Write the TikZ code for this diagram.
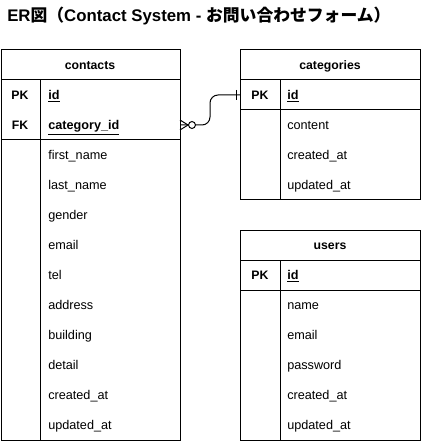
\documentclass[tikz,border=0pt]{standalone}
\usepackage{fontspec}
\setmainfont{Liberation Sans}
\newfontfamily\jpfont{Noto Sans CJK JP}
\usetikzlibrary{calc,positioning}
\tikzset{%
	tablebox/.style  = {draw, line width=0.75pt},
	rowline/.style   = {line width=0.75pt},
	header/.style    = {anchor=base, inner sep=0pt, font=\fontsize{9.2}{11}\selectfont\bfseries},
	keytext/.style   = {anchor=base, inner sep=0pt, font=\fontsize{9.2}{11}\selectfont\bfseries},
	fieldtext/.style = {anchor=base west, inner sep=0pt, font=\fontsize{9.5}{11}\selectfont},
	relation/.style  = {line width=0.75pt, rounded corners=6},
}
\begin{document}
\begin{tikzpicture}[x=0.75pt,y=-0.75pt]
	\useasboundingbox (0,0) rectangle (421,441);
	\node[anchor=base west, inner sep=0pt, font=\fontsize{12.6}{14}\selectfont\bfseries] (title) at (7,22) {ER{\jpfont 図（}Contact System - {\jpfont お問い合わせフォーム）}};
	% contacts
	\draw[tablebox] (1,50) rectangle (180,440);
	\draw[rowline] (1,80) -- (180,80) (40,80) -- (40,440) (1,140) -- (180,140);
	\node[header] (contacts) at (90,69.5) {contacts};
	\node[keytext] (contacts-pk) at (20,99.5) {PK};
	\node[fieldtext] (contacts-id) at (48,99.5) {\bfseries\underline{id}};
	\node[keytext] (contacts-fk) at (20,129.5) {FK};
	\node[fieldtext] (contacts-catid) at (48,129.5) {\bfseries\underline{category\_id}};
	\foreach \f [count=\i] in {first\_name,last\_name,gender,email,tel,address,building,detail,created\_at,updated\_at}
		\node[fieldtext] (contacts-f\i) at (48,129.5+30*\i) {\f};
	% categories
	\draw[tablebox] (240,50) rectangle (420,200);
	\draw[rowline] (240,80) -- (420,80) (280,80) -- (280,200) (240,110) -- (420,110);
	\node[header] (categories) at (330,69.5) {categories};
	\node[keytext] (categories-pk) at (260,99.5) {PK};
	\node[fieldtext] (categories-id) at (287,99.5) {\bfseries\underline{id}};
	\foreach \f [count=\i] in {content,created\_at,updated\_at}
		\node[fieldtext] (categories-f\i) at (287,99.5+30*\i) {\f};
	% users
	\draw[tablebox] (240,230) rectangle (420,440);
	\draw[rowline] (240,260) -- (420,260) (280,260) -- (280,440) (240,290) -- (420,290);
	\node[header] (users) at (330,249.5) {users};
	\node[keytext] (users-pk) at (260,279.5) {PK};
	\node[fieldtext] (users-id) at (287,279.5) {\bfseries\underline{id}};
	\foreach \f [count=\i] in {name,email,password,created\_at,updated\_at}
		\node[fieldtext] (users-f\i) at (287,279.5+30*\i) {\f};
	% relation contacts.category_id >o--|| categories.id
	\coordinate (fk-end) at (180,125);
	\coordinate (pk-end) at (240,95);
	\draw[relation] (fk-end) -- ++(30,0) |- (pk-end);
	\draw[rowline] ($(fk-end)+(0,-5)$) -- ($(fk-end)+(8,0)$) -- ($(fk-end)+(0,5)$);
	\draw[rowline, fill=white] ($(fk-end)+(12,0)$) circle[radius=2.6pt];
	\draw[rowline] ($(pk-end)+(-4,-5)$) -- ($(pk-end)+(-4,5)$);
\end{tikzpicture}
\end{document}
